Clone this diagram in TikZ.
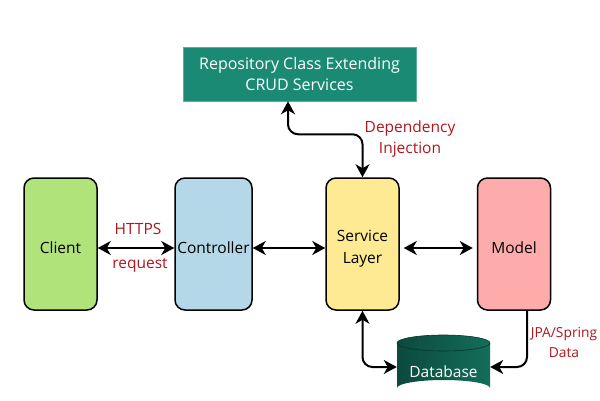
\documentclass[tikz,border=0pt]{standalone}
\usepackage{fontspec}
\setmainfont{Open Sans}
\usetikzlibrary{arrows.meta}
\definecolor{cgreen}{HTML}{B1E37B}
\definecolor{cblue}{HTML}{B4D8E7}
\definecolor{cyellow}{HTML}{FEEA92}
\definecolor{cpink}{HTML}{FEABAB}
\definecolor{cteal}{HTML}{1B8A74}
\definecolor{cred}{HTML}{B0161C}
\definecolor{dbdark}{HTML}{0C4A3D}
\definecolor{dblight}{HTML}{136E59}
\tikzset{
  layer/.style={draw=black, line width=1.5pt, rounded corners=10pt, minimum width=73pt, minimum height=132pt},
  boxtext/.style={align=center, inner sep=1pt, font=\fontsize{15.5}{19}\selectfont},
  conn/.style={line width=2pt, {Stealth[length=13pt,width=14pt,inset=4pt]}-{Stealth[length=13pt,width=14pt,inset=4pt]}},
  oneway/.style={line width=2pt, -{Stealth[length=13pt,width=14pt,inset=4pt]}},
  lbl/.style={text=cred, align=center, font=\fontsize{15.5}{21}\selectfont}
}
\begin{document}
\begin{tikzpicture}[x=1pt,y=-1pt]
\useasboundingbox (0,0) rectangle (600,400);
\node[layer, fill=cgreen] (client) at (60.5,244) {};
\node[layer, fill=cblue, minimum width=77pt] (controller) at (213.5,244) {};
\node[layer, fill=cyellow] (service) at (362.5,244) {};
\node[layer, fill=cpink] (model) at (514,244) {};
\node[boxtext] (clientT) at (60.5,248) {Client};
\node[boxtext] (controllerT) at (213.5,248) {Controller};
\node[boxtext] (serviceT) at (362.5,249) {Service\\[3pt]Layer};
\node[boxtext] (modelT) at (514,248) {Model};
\node[fill=cteal, draw=cteal!70!white, line width=0.5pt, minimum width=233pt, minimum height=54pt, text=white, align=center, font=\fontsize{16}{21}\selectfont] (repo) at (299.5,74) {Repository Class Extending\\CRUD Services};
% database
\shade[left color=dbdark, right color=dblight, shading angle=90]
  (397,343) -- (397,388) arc[start angle=180, end angle=360, x radius=46.5, y radius=8] -- (490,343) -- cycle;
\shade[left color=dbdark, right color=dblight] (443.5,343) ellipse[x radius=46.5, y radius=8];
\draw[dbdark!70!black, line width=0.6pt] (443.5,343) ellipse[x radius=46.5, y radius=8];
\node[minimum width=93pt, minimum height=54pt, inner sep=0pt] (db) at (443.5,367) {};
\node[text=white, font=\fontsize{15.5}{19}\selectfont] (dbT) at (443.5,372) {Database};
% connectors
\draw[conn] ([yshift=-4pt]client.east) -- ([yshift=-4pt]controller.west);
\draw[conn] ([yshift=-4pt]controller.east) -- ([yshift=-4pt]service.west);
\draw[conn] ([xshift=4pt,yshift=-4pt]service.east) -- ([xshift=-4pt,yshift=-4pt]model.west);
\draw[conn, rounded corners=10pt] (service.north) -- ++(0,-43) -| ([xshift=-11.5pt]repo.south);
\draw[conn, rounded corners=10pt] (service.south) |- (db.west);
\draw[oneway, rounded corners=10pt] ([xshift=13pt]model.south) |- (db.east);
% labels
\node[lbl] (https) at (138,229) {HTTPS};
\node[lbl] (req) at (140,265) {request};
\node[lbl] (dep) at (410,139) {Dependency\\Injection};
\node[lbl, font=\fontsize{13.8}{20}\selectfont] (jpa) at (564,342.5) {JPA/Spring\\Data};
\end{tikzpicture}
\end{document}
